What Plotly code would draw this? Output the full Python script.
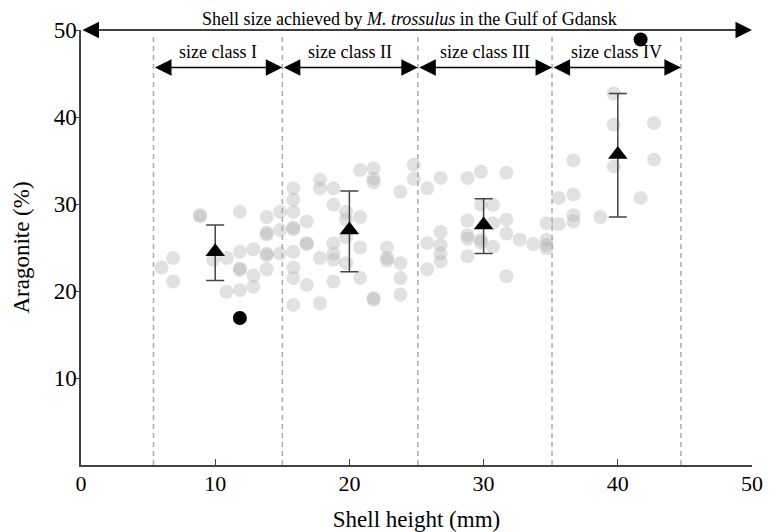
import plotly.graph_objects as go

# individual measurements (shell height mm, aragonite %)
pts_x = [6.0, 6.87, 6.87, 8.87, 8.87, 9.85, 10.85, 10.85, 11.84, 11.84, 11.84, 11.84, 11.84,
         12.84, 12.84, 12.84, 13.84, 13.84, 13.84, 13.84, 13.84, 13.84, 14.83, 14.83, 14.83,
         15.82, 15.82, 15.82, 15.82, 15.82, 15.82, 15.82, 15.82, 15.82,
         16.82, 16.82, 16.82, 16.82,
         17.81, 17.81, 17.81, 17.81,
         18.81, 18.81, 18.81, 18.81, 18.81, 18.81,
         19.75, 19.75, 19.75, 19.75,
         20.8, 20.8, 20.8, 20.8,
         21.8, 21.8, 21.8, 21.8, 21.8,
         22.8, 22.8, 22.8,
         23.8, 23.8, 23.8, 23.8,
         24.8, 24.8,
         25.8, 25.8, 25.8, 26.8, 26.8, 26.8, 26.8, 26.8,
         28.8, 28.8, 28.8, 28.8, 28.8,
         29.8, 29.8, 29.8, 29.8,
         30.7, 30.7, 30.7,
         31.7, 31.7, 31.7, 31.7,
         32.7, 33.7,
         34.7, 34.7, 34.7, 34.7,
         35.6, 35.6, 36.7, 36.7, 36.7, 36.7, 38.7, 39.7, 39.7, 39.7, 41.7, 42.7, 42.7]
pts_y = [22.7, 23.8, 21.1, 28.6, 28.7, 23.6, 23.8, 19.9, 29.1, 24.5, 22.6, 22.4, 20.1,
         24.8, 21.8, 20.5, 28.5, 26.7, 26.5, 24.3, 24.1, 22.5, 29.1, 27.0, 24.3,
         31.8, 30.5, 29.1, 27.1, 27.3, 24.5, 22.7, 21.5, 18.4,
         28.0, 25.4, 25.5, 20.7,
         32.8, 31.8, 23.8, 18.6,
         31.8, 29.9, 25.5, 24.3, 23.6, 21.1,
         29.1, 28.2, 26.2, 23.2,
         33.9, 28.5, 25.0, 21.5,
         34.1, 32.9, 32.5, 19.2, 19.0,
         25.0, 23.8, 23.5,
         31.4, 23.2, 21.5, 19.6,
         34.5, 32.9,
         31.8, 25.5, 22.5, 33.0, 26.8, 25.3, 24.3, 23.4,
         33.0, 28.1, 26.4, 26.0, 24.0,
         33.7, 29.9, 25.9, 25.6,
         29.9, 27.8, 25.1,
         33.6, 28.2, 26.6, 21.7,
         25.9, 25.4,
         27.8, 25.9, 25.3, 24.9,
         30.7, 27.7, 35.0, 31.1, 28.7, 28.0, 28.5, 42.7, 39.1, 34.3, 30.7, 39.3, 35.1]

# class means with ranges
mean_x = [10, 20, 30, 40]
mean_y = [24.5, 27.0, 27.6, 35.7]
upper_y = [27.6, 31.5, 30.6, 42.7]
lower_y = [21.2, 22.2, 24.3, 28.5]

# highlighted (black) measurements
dot_x = [11.84, 41.7]
dot_y = [16.9, 48.9]

# size class boundaries and labels
bounds = [5.4, 15.0, 25.1, 35.1, 44.7]
class_labels = ["size class I", "size class II", "size class III", "size class IV"]
class_arrow_y = 45.7
x_ticks = [0, 10, 20, 30, 40, 50]
y_ticks = [10, 20, 30, 40, 50]

FONT = "Liberation Serif"

fig = go.Figure()
fig.add_trace(go.Scatter(
    x=pts_x, y=pts_y, mode="markers",
    marker=dict(size=14, color="rgba(175,175,175,0.38)", line=dict(width=0)),
    cliponaxis=False, showlegend=False))
fig.add_trace(go.Scatter(
    x=mean_x, y=mean_y, mode="markers",
    marker=dict(symbol="triangle-up", size=17, color="black", line=dict(width=0)),
    error_y=dict(type="data", symmetric=False,
                 array=[u - m for u, m in zip(upper_y, mean_y)],
                 arrayminus=[m - l for m, l in zip(mean_y, lower_y)],
                 color="#444", thickness=1.5, width=9),
    cliponaxis=False, showlegend=False))
fig.add_trace(go.Scatter(
    x=dot_x, y=dot_y, mode="markers",
    marker=dict(size=14, color="black"),
    cliponaxis=False, showlegend=False))

shapes = []
for b in bounds:
    shapes.append(dict(type="line", xref="x", yref="y", x0=b, x1=b, y0=0, y1=49.6,
                       line=dict(color="#aaaaaa", width=1.5, dash="5px,4px"), layer="below"))
fig.update_layout(shapes=shapes)

annotations = []
# main double arrow
annotations.append(dict(x=50, y=50, ax=0, ay=50, xref="x", yref="y", axref="x", ayref="y",
                        text="", showarrow=True, arrowhead=2, startarrowhead=2,
                        arrowside="end+start", arrowsize=2.2, startarrowsize=2.2,
                        arrowwidth=1.5, arrowcolor="black"))
annotations.append(dict(x=24.5, y=50, xref="x", yref="y", yanchor="middle", yshift=11,
                        text="Shell size achieved by <i>M. trossulus</i> in the Gulf of Gdansk",
                        showarrow=False, font=dict(family=FONT, size=18, color="black")))
for i, lab in enumerate(class_labels):
    a, b = bounds[i], bounds[i + 1]
    annotations.append(dict(x=b, y=class_arrow_y, ax=a, ay=class_arrow_y, xref="x", yref="y",
                            axref="x", ayref="y", text="", showarrow=True, arrowhead=2,
                            startarrowhead=2, arrowside="end+start", arrowsize=2.2,
                            startarrowsize=2.2, arrowwidth=1.5, arrowcolor="black"))
    annotations.append(dict(x=(a + b) / 2, y=class_arrow_y, xref="x", yref="y",
                            yanchor="middle", yshift=15, text=lab, showarrow=False,
                            font=dict(family=FONT, size=18, color="black")))
fig.update_layout(annotations=annotations)

fig.update_layout(
    width=774, height=532,
    margin=dict(l=81, r=22, t=29.5, b=66.5, pad=0),
    plot_bgcolor="white", paper_bgcolor="white",
    font=dict(family=FONT, size=22, color="black"),
    xaxis=dict(range=[0, 50], tickvals=x_ticks, ticks="inside", ticklen=6,
               tickcolor="#444", showline=True, linecolor="#444", linewidth=1.5,
               showgrid=False, zeroline=False, automargin=False, ticklabelstandoff=-2,
               tickfont=dict(family=FONT, size=22),
               title=dict(text="Shell height (mm)", font=dict(family=FONT, size=23), standoff=22)),
    yaxis=dict(range=[0, 50], tickvals=y_ticks, ticks="outside", ticklen=5,
               tickcolor="#444", showline=True, linecolor="#444", linewidth=1.5,
               showgrid=False, zeroline=False, automargin=False, ticklabelstandoff=-7,
               tickfont=dict(family=FONT, size=23),
               title=dict(text="Aragonite (%)", font=dict(family=FONT, size=23), standoff=18)),
)

fig.write_html("out.html", config={"displayModeBar": False},
               post_script="document.body.style.margin='0px';")
